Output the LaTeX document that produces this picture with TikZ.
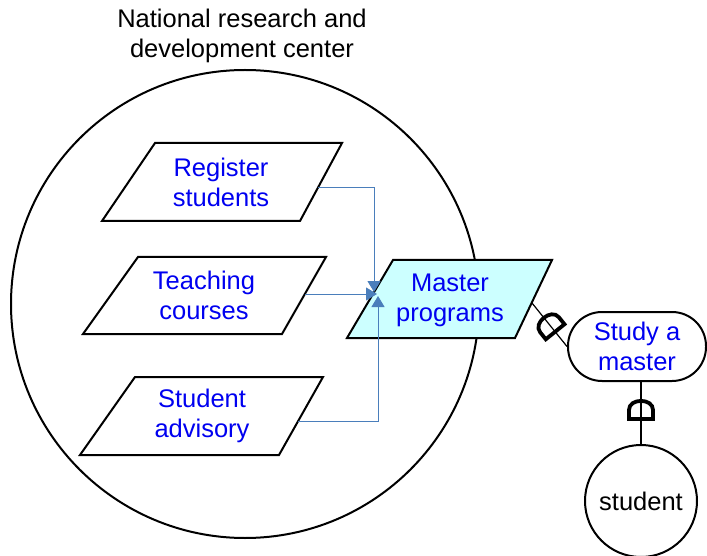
\documentclass[tikz,border=0pt]{standalone}
\usepackage{fontspec}
\setmainfont{Liberation Sans}
\usetikzlibrary{arrows.meta}
\definecolor{txtblue}{RGB}{0,0,240}
\definecolor{linkblue}{RGB}{74,126,187}
\definecolor{boxfill}{RGB}{204,255,255}
\tikzset{
  dsym/.pic={\draw[dmark] (-12,9) -- (12,9) -- (12,0) .. controls (12,-12) and (-12,-12) .. (-12,0) -- cycle;}
}
\begin{document}
\begin{tikzpicture}[x=1pt,y=-1pt,
  every node/.style={font=\fontsize{25.5}{30}\selectfont, inner sep=0pt},
  shapeline/.style={line width=2pt, line join=miter},
  lbl/.style={text=txtblue, align=center},
  flow/.style={draw=linkblue, line width=1pt, -{Triangle[length=11pt,width=13pt]}},
  link/.style={line width=1.2pt},
  dmark/.style={line width=3.8pt, line join=miter}
]
\useasboundingbox (0,0) rectangle (707,556);

% big circle and title
\node[draw, circle, line width=2pt, minimum size=468pt] (nrdc) at (245,304) {};
\node[align=center] (title) at (242,36) {National research and\\development center};

% activities
\draw[shapeline] (155,143) -- (342,143) -- (300,221) -- (102,221) -- cycle;
\node[lbl] (reg) at (221,182) {Register\\students};
\draw[shapeline] (138,257) -- (326,257) -- (282,334) -- (83,334) -- cycle;
\node[lbl] (teach) at (204,295) {Teaching\\courses};
\draw[shapeline] (135,377) -- (323,377) -- (279,455) -- (80,455) -- cycle;
\node[lbl] (adv) at (202,416) {Student\\advisory};
\draw[shapeline, fill=boxfill] (393,260) -- (552,260) -- (515,338) -- (347,338) -- cycle;
\node[lbl] (mp) at (450,300) {Master\\programs};

% blue connectors
\coordinate (reg-out) at (318,188);
\coordinate (teach-out) at (305,294);
\coordinate (adv-out) at (298,421);
\coordinate (mp-in1) at (374,292);
\coordinate (mp-in2) at (377,294);
\coordinate (mp-in3) at (378,296);
\draw[flow] (reg-out) -| (mp-in1);
\draw[flow] (teach-out) -- (mp-in2);
\draw[flow] (adv-out) -| (mp-in3);

% right side
\node[draw, line width=2pt, rounded corners=34pt, minimum width=138pt, minimum height=69pt, lbl] (study) at (637,346.5) {Study a\\master};
\node[draw, circle, line width=2pt, minimum size=112pt] (stu) at (641,501) {student};

\coordinate (mp-out) at (532,303);
\draw[link] (mp-out) -- coordinate[pos=0.5] (dm1) (study.west);
\pic[rotate=38.8] at (dm1) {dsym};
\draw[link] (stu.north |- study.south) -- coordinate[pos=0.45] (dm2) (stu.north);
\pic at (dm2) {dsym};
\end{tikzpicture}
\end{document}
